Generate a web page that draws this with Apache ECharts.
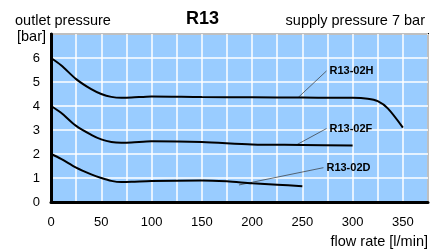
<!DOCTYPE html>
<html>
<head>
<meta charset="utf-8">
<script src="https://cdn.jsdelivr.net/npm/echarts@6/dist/echarts.min.js"></script>
<style>
  html, body { margin: 0; padding: 0; background: #fff; }
  #chart { width: 446px; height: 251px; }
</style>
</head>
<body>
<div id="chart"></div>
<script>
// flow rate [l/min] -> outlet pressure [bar]
const flowH = [0, 10, 25, 40, 50, 60, 70, 80, 100, 150, 200, 250, 300, 315, 325, 335, 350];
const presH = [6, 5.7, 5.12, 4.7, 4.5, 4.38, 4.34, 4.35, 4.4, 4.37, 4.36, 4.35, 4.34, 4.3, 4.2, 3.9, 3.1];
const flowF = [0, 10, 25, 40, 50, 60, 70, 80, 100, 150, 200, 250, 300];
const presF = [4, 3.72, 3.17, 2.8, 2.61, 2.5, 2.47, 2.48, 2.53, 2.5, 2.4, 2.38, 2.35];
const flowD = [0, 10, 25, 40, 50, 60, 70, 80, 100, 150, 175, 200, 225, 250];
const presD = [2, 1.8, 1.43, 1.15, 1.0, 0.88, 0.83, 0.84, 0.88, 0.9, 0.86, 0.78, 0.72, 0.66];

// leader lines: [from point on curve, to label]
const labelNames = ["R13-02H", "R13-02F", "R13-02D"];
const leaderH = [[246, 4.36], [274, 5.46]];
const leaderF = [[245, 2.4], [274, 3.06]];
const leaderD = [[187, 0.71], [271, 1.43]];

const zip = (xs, ys) => xs.map((x, i) => [x, ys[i]]);

const font = "'Liberation Sans', Arial, sans-serif";
const chart = echarts.init(document.getElementById("chart"));

function curve(data) {
  return {
    type: "line",
    data: data,
    smooth: 0.3,
    showSymbol: false,
    lineStyle: { color: "#000", width: 2 },
    z: 5,
  };
}

function leader(data, name) {
  return {
    type: "line",
    data: data,
    showSymbol: false,
    lineStyle: { color: "#333", width: 0.7 },
    endLabel: {
      show: true,
      formatter: name,
      color: "#000",
      fontFamily: font,
      fontSize: 11,
      fontWeight: "bold",
      distance: 3,
    },
    z: 4,
  };
}

const option = {
  animation: false,
  grid: {
    left: 51,
    right: 18,
    top: 34,
    bottom: 49,
    show: true,
    backgroundColor: "#99ccff",
    borderColor: "#000",
    borderWidth: 2,
  },
  graphic: [
    { type: "text", left: 15, top: 13, style: { text: "outlet pressure", font: "14.5px " + font, fill: "#000" } },
    { type: "text", left: 17, top: 29, style: { text: "[bar]", font: "14.5px " + font, fill: "#000" } },
    { type: "text", left: 186, top: 10, style: { text: "R13", font: "bold 18px " + font, fill: "#000" } },
    { type: "text", right: 21, top: 13, style: { text: "supply pressure 7 bar", font: "14.5px " + font, fill: "#000" } },
    { type: "text", right: 18, top: 234, style: { text: "flow rate [l/min]", font: "14.5px " + font, fill: "#000" } },
  ],
  xAxis: {
    type: "value",
    min: 0,
    max: 375,
    interval: 25,
    axisLine: { show: true, lineStyle: { color: "#000", width: 3 } },
    axisTick: { show: false },
    splitLine: { show: true, lineStyle: { color: "#fff", width: 1.5 } },
    axisLabel: {
      color: "#000",
      fontFamily: font,
      fontSize: 13,
      margin: 14,
      formatter: (v) => (v % 50 === 0 ? String(v) : ""),
    },
  },
  yAxis: {
    type: "value",
    min: 0,
    max: 7,
    interval: 1,
    axisLine: { show: true, lineStyle: { color: "#000", width: 3 } },
    axisTick: { show: false },
    splitLine: { show: true, lineStyle: { color: "#fff", width: 1.5 } },
    axisLabel: {
      color: "#000",
      fontFamily: font,
      fontSize: 13,
      margin: 11,
      formatter: (v) => (v === 7 ? "" : String(v)),
    },
  },
  series: [
    curve(zip(flowH, presH)),
    curve(zip(flowF, presF)),
    curve(zip(flowD, presD)),
    leader(leaderH, labelNames[0]),
    leader(leaderF, labelNames[1]),
    leader(leaderD, labelNames[2]),
  ],
};

chart.setOption(option);
</script>
</body>
</html>
